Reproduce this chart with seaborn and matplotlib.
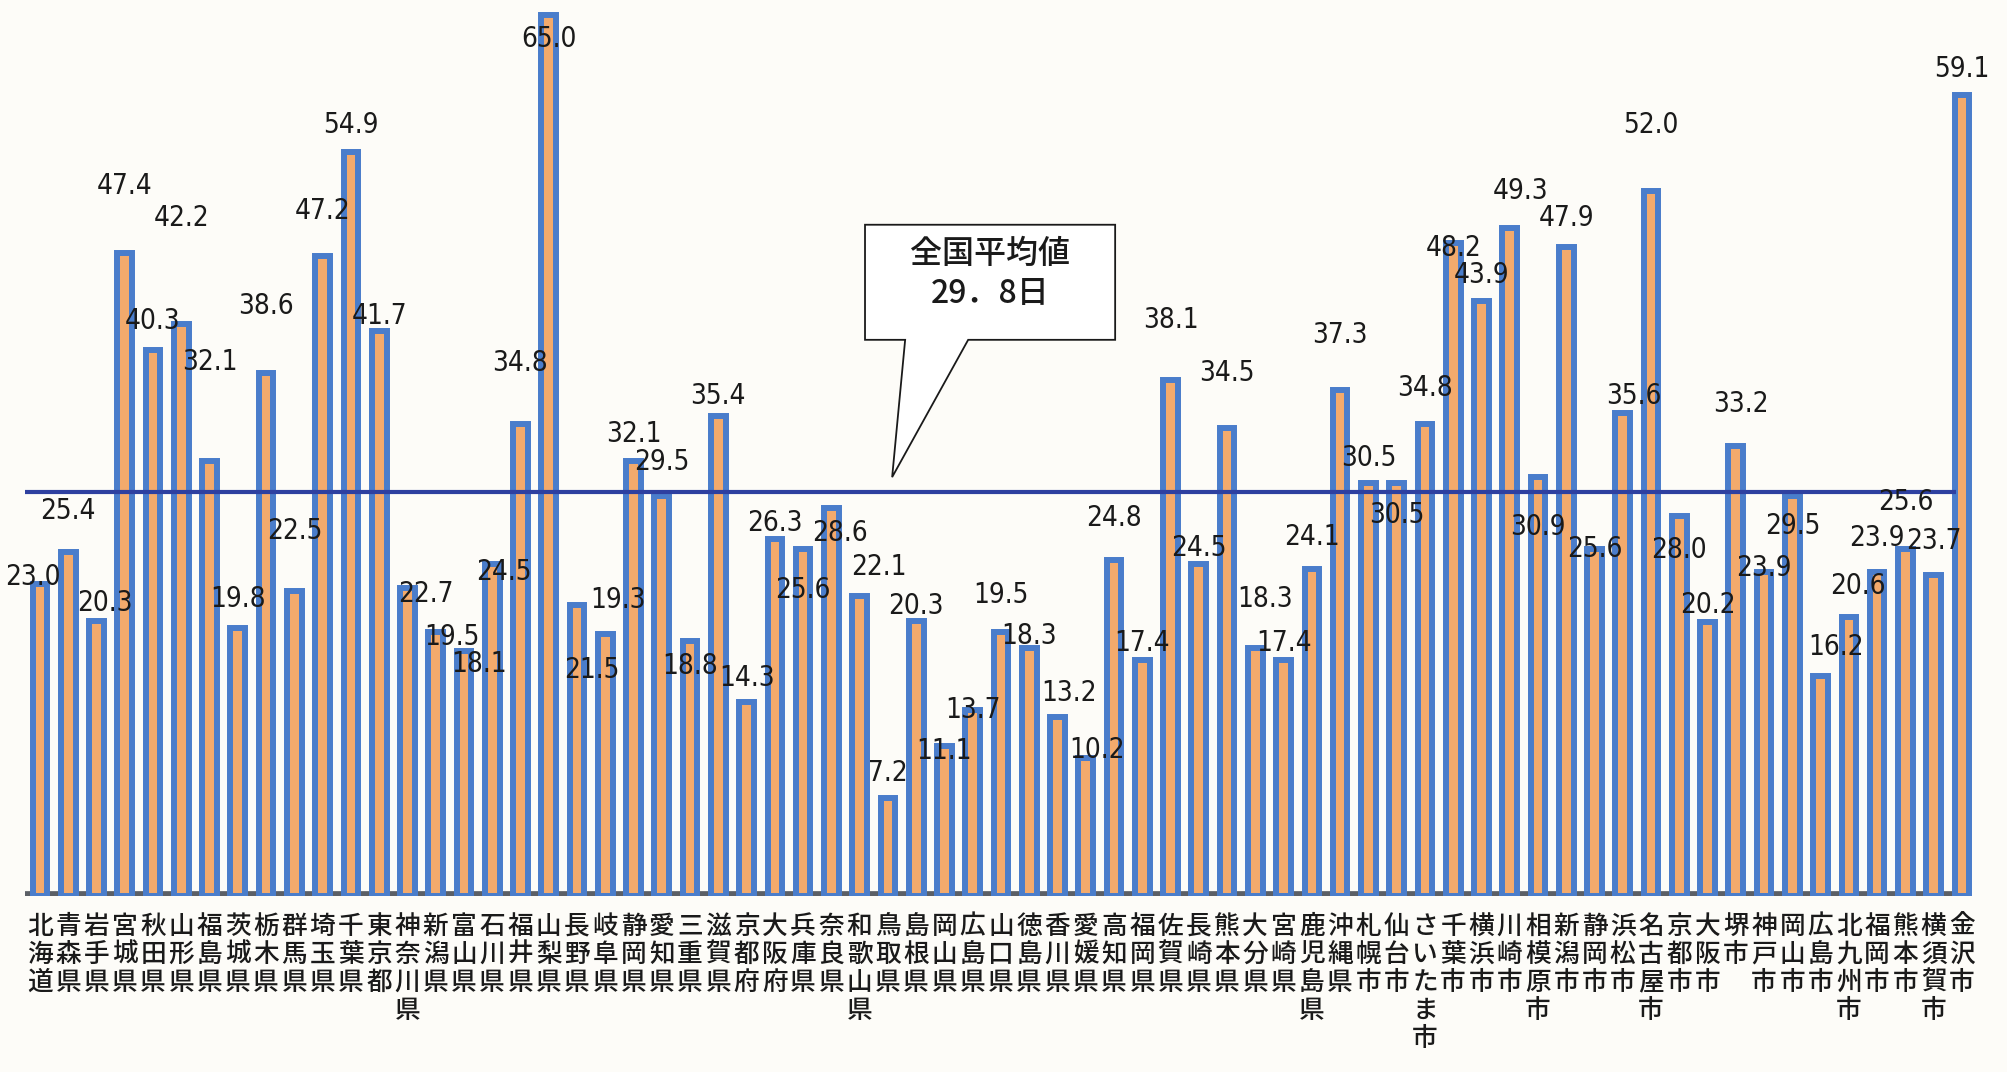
import matplotlib
matplotlib.use("Agg")
import matplotlib.pyplot as plt
from matplotlib.patches import Polygon
from matplotlib import font_manager
import seaborn as sns
import pandas as pd

# ========= DATOS =========
regions = [
    "北海道", "青森県", "岩手県", "宮城県", "秋田県", "山形県", "福島県", "茨城県", "栃木県", "群馬県",
    "埼玉県", "千葉県", "東京都", "神奈川県", "新潟県", "富山県", "石川県", "福井県", "山梨県", "長野県",
    "岐阜県", "静岡県", "愛知県", "三重県", "滋賀県", "京都府", "大阪府", "兵庫県", "奈良県", "和歌山県",
    "鳥取県", "島根県", "岡山県", "広島県", "山口県", "徳島県", "香川県", "愛媛県", "高知県", "福岡県",
    "佐賀県", "長崎県", "熊本県", "大分県", "宮崎県", "鹿児島県", "沖縄県", "札幌市", "仙台市", "さいたま市",
    "千葉市", "横浜市", "川崎市", "相模原市", "新潟市", "静岡市", "浜松市", "名古屋市", "京都市", "大阪市",
    "堺市", "神戸市", "岡山市", "広島市", "北九州市", "福岡市", "熊本市", "横須賀市", "金沢市",
]
days = [
    23.0, 25.4, 20.3, 47.4, 40.3, 42.2, 32.1, 19.8, 38.6, 22.5,
    47.2, 54.9, 41.7, 22.7, 19.5, 18.1, 24.5, 34.8, 65.0, 21.5,
    19.3, 32.1, 29.5, 18.8, 35.4, 14.3, 26.3, 25.6, 28.6, 22.1,
    7.2, 20.3, 11.1, 13.7, 19.5, 18.3, 13.2, 10.2, 24.8, 17.4,
    38.1, 24.5, 34.5, 18.3, 17.4, 24.1, 37.3, 30.5, 30.5, 34.8,
    48.2, 43.9, 49.3, 30.9, 47.9, 25.6, 35.6, 52.0, 28.0, 20.2,
    33.2, 23.9, 29.5, 16.2, 20.6, 23.9, 25.6, 23.7, 59.1,
]
national_avg = 29.8
callout_text = "全国平均値\n29．8日"

# posición de las etiquetas de valor (desplazamiento respecto a la barra)
label_dy = [
    0.5, 3.0, 1.3, 5.0, 2.1, 7.8, 7.3, 2.1, 4.9, 4.4,
    3.3, 2.0, 1.1, -0.4, -0.4, -1.0, -0.6, 4.5, -1.8, -4.8,
    2.5, 2.0, 2.5, -1.8, 1.5, 1.8, 1.2, -3.0, -1.8, 2.2,
    1.9, 1.1, -0.4, 0.0, 2.7, 0.9, 1.8, 0.6, 3.1, 1.3,
    4.4, 1.2, 4.1, 3.6, 1.3, 2.4, 4.1, 1.8, -2.4, 2.7,
    -0.4, 1.9, 2.7, -3.7, 2.1, 0.0, 1.3, 4.9, -2.5, 1.3,
    3.1, 0.3, -2.2, 2.2, 2.3, 2.5, 3.5, 2.5, 1.9,
]
label_dx = [0.0] * len(days)
for idx, shift in {0: -0.25, 2: 0.28, 13: 0.67, 14: 0.57, 15: 0.53, 16: 0.4, 19: 0.53,
                   20: 0.46, 28: 0.32, 29: 0.67, 36: 0.39, 37: 0.39, 43: 0.35,
                   52: 0.39, 56: 0.39, 60: 0.18, 63: 0.53, 64: 0.32}.items():
    label_dx[idx] = shift

# ========= ESTILO =========
ORANGE = "#F3AA6C"
BLUE_EDGE = "#4A7DCB"
AVG_BLUE = "#2E40A0"
FLOOR = "#5b5f66"
BG = "#fdfcf8"

sns.set_style("white")
plt.rcParams["font.family"] = ["Noto Sans CJK JP", "DejaVu Sans"]

# fuente estrecha para los números, si existe
installed = {f.name for f in font_manager.fontManager.ttflist}
condensed = [f for f in font_manager.fontManager.ttflist
             if f.name in ("Liberation Sans Narrow", "DejaVu Sans Condensed")
             or (f.name == "DejaVu Sans" and f.stretch == "condensed")]
print("condensed fonts:", [(f.name, f.fname, f.stretch) for f in condensed])
if "Liberation Sans Narrow" in installed:
    NUM_FONT = dict(family="Liberation Sans Narrow")
elif condensed:
    NUM_FONT = dict(family="DejaVu Sans", stretch="condensed")
else:
    NUM_FONT = dict(family="Liberation Sans")

df = pd.DataFrame({"region": regions, "days": days})

fig = plt.figure(figsize=(20.08, 10.72), dpi=100, facecolor=BG)
ax = fig.add_axes([0, 0.1642, 1, 0.8358])
ax.set_facecolor(BG)

sns.barplot(data=df, x="region", y="days", color=ORANGE, saturation=1,
            edgecolor=BLUE_EDGE, linewidth=4.3, width=0.52, ax=ax, zorder=3)

# suelo gris
n = len(days)
ax.hlines(0, -0.53, n - 0.7, color=FLOOR, linewidth=7, zorder=2)

# línea del promedio nacional
ax.hlines(national_avg, -0.53, n - 1.2, color=AVG_BLUE, linewidth=3, zorder=4)

# etiquetas de valores
for i, v in enumerate(days):
    ax.text(i + label_dx[i], v + label_dy[i], f"{v:.1f}", ha="center", va="center",
            fontsize=20, color="#1a1a1a", zorder=5, **NUM_FONT)

# globo de texto
bx0, bx1, by0, by1 = 29.19, 38.04, 41.03, 49.52
bubble = Polygon([(bx0, by1), (bx1, by1), (bx1, by0), (32.84, by0),
                  (30.15, national_avg + 1.1), (30.61, by0), (bx0, by0)],
                 closed=True, facecolor="white", edgecolor="#1a1a1a", linewidth=1.3, zorder=6)
ax.add_patch(bubble)
ax.text((bx0 + bx1) / 2, 45.9, callout_text, ha="center", va="center",
        fontsize=23, fontweight="medium", linespacing=1.3, color="#1a1a1a", zorder=7)

# etiquetas verticales del eje x
ax.set_xticks(range(n))
ax.set_xticklabels(["\n".join(name) for name in regions], fontsize=18.5, fontweight="medium",
                   linespacing=1.05, va="top", color="#1a1a1a")
ax.tick_params(axis="x", length=0, pad=12)
ax.set_yticks([])
ax.set_xlabel("")
ax.set_ylabel("")
ax.set_xlim(-1.415, 69.63)
ax.set_ylim(0, 66.1)
for s in ax.spines.values():
    s.set_visible(False)

plt.savefig("out.png", dpi=100, facecolor=BG)
plt.close()
